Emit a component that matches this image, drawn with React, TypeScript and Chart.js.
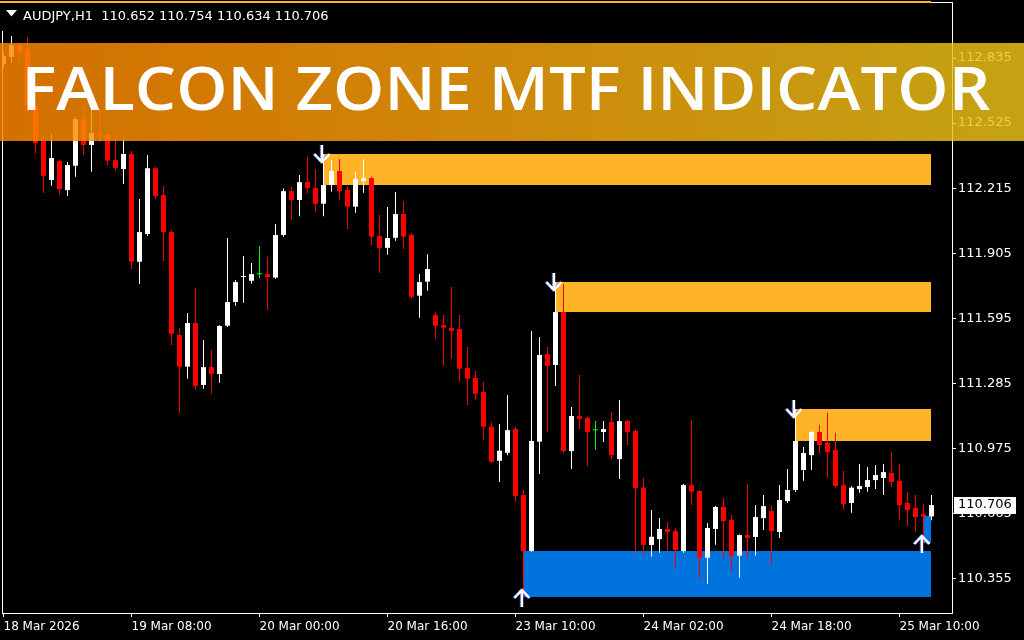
import React, { useEffect, useRef } from 'react';
import { Chart, registerables } from 'chart.js';

Chart.register(...registerables);

const symbolTitle = 'AUDJPY,H1  110.652 110.754 110.634 110.706';
const bannerText = 'FALCON ZONE MTF INDICATOR';

const barOpen = [
  112.806, 112.840, 112.897, 112.878, 112.611, 112.441, 112.254, 112.344, 112.206, 112.322,
  112.544, 112.421, 112.473, 112.468, 112.349, 112.306, 112.378, 111.865, 111.997, 112.310,
  112.182, 112.006, 111.516, 111.365, 111.573, 111.278, 111.363, 111.330, 111.560, 111.673,
  111.792, 111.774, 111.805, 111.806, 111.789, 111.992, 112.201, 112.159, 112.244, 112.216,
  112.141, 112.230, 112.297, 112.206, 112.127, 112.249, 112.263, 111.987, 111.931, 111.979,
  112.092, 111.992, 111.703, 111.770, 111.611, 111.563, 111.549, 111.544, 111.359, 111.311,
  111.244, 111.079, 110.917, 110.955, 111.068, 110.754, 110.487, 111.008, 111.425, 111.373,
  111.625, 110.963, 111.130, 111.121, 111.062, 111.054, 111.101, 110.925, 111.106, 111.059,
  110.789, 110.516, 110.544, 110.592, 110.582, 110.487, 110.801, 110.773, 110.455, 110.592,
  110.697, 110.635, 110.465, 110.563, 110.554, 110.644, 110.678, 110.578, 110.725, 110.778,
  110.873, 110.944, 111.054, 111.003, 110.968, 110.801, 110.716, 110.782, 110.792, 110.825,
  110.835, 110.859, 110.821, 110.716, 110.692, 110.663, 110.652,
];
const barHigh = [
  112.863, 112.940, 112.906, 112.935, 112.621, 112.463, 112.473, 112.349, 112.340, 112.554,
  112.601, 112.592, 112.587, 112.473, 112.454, 112.449, 112.392, 112.163, 112.373, 112.317,
  112.225, 112.016, 111.549, 111.621, 111.740, 111.492, 111.444, 111.562, 111.978, 111.778,
  111.892, 111.859, 111.940, 111.889, 112.044, 112.214, 112.222, 112.278, 112.365, 112.306,
  112.378, 112.349, 112.354, 112.222, 112.292, 112.354, 112.270, 112.087, 112.125, 112.197,
  112.154, 112.001, 111.806, 111.901, 111.625, 111.611, 111.744, 111.611, 111.459, 111.344,
  111.292, 111.101, 111.092, 111.230, 111.078, 110.778, 111.535, 111.506, 111.459, 111.768,
  111.759, 111.173, 111.325, 111.127, 111.106, 111.106, 111.149, 111.206, 111.111, 111.068,
  110.835, 110.682, 110.644, 110.625, 110.597, 110.806, 111.111, 110.775, 110.621, 110.701,
  110.740, 110.659, 110.566, 110.806, 110.706, 110.754, 110.706, 110.801, 110.878, 111.163,
  110.982, 111.060, 111.087, 111.146, 111.049, 110.868, 110.797, 110.901, 110.887, 110.897,
  110.901, 110.960, 110.901, 110.768, 110.754, 110.711, 110.754,
];
const barLow = [
  112.787, 112.811, 112.811, 112.578, 112.382, 112.193, 112.227, 112.184, 112.178, 112.270,
  112.373, 112.293, 112.436, 112.325, 112.298, 112.235, 111.830, 111.759, 111.987, 112.163,
  111.868, 111.468, 111.146, 111.308, 111.255, 111.260, 111.236, 111.289, 111.554, 111.655,
  111.670, 111.760, 111.787, 111.635, 111.784, 111.984, 112.063, 112.082, 112.191, 112.103,
  112.082, 112.198, 112.159, 112.021, 112.098, 112.193, 111.944, 111.812, 111.898, 111.965,
  111.927, 111.689, 111.598, 111.727, 111.498, 111.370, 111.403, 111.293, 111.182, 111.206,
  111.016, 110.908, 110.816, 110.943, 110.722, 110.268, 110.484, 110.854, 111.054, 111.273,
  110.955, 110.878, 111.068, 110.892, 110.968, 111.006, 110.925, 110.830, 110.992, 110.479,
  110.468, 110.460, 110.479, 110.489, 110.403, 110.479, 110.708, 110.354, 110.331, 110.517,
  110.450, 110.393, 110.360, 110.455, 110.465, 110.587, 110.417, 110.549, 110.716, 110.768,
  110.822, 110.873, 110.952, 110.836, 110.790, 110.686, 110.670, 110.765, 110.770, 110.782,
  110.754, 110.792, 110.635, 110.606, 110.579, 110.525, 110.634,
];
const barClose = [
  112.844, 112.897, 112.863, 112.611, 112.430, 112.274, 112.359, 112.211, 112.325, 112.544,
  112.421, 112.478, 112.468, 112.346, 112.312, 112.378, 111.865, 112.006, 112.310, 112.178,
  112.006, 111.522, 111.365, 111.573, 111.274, 111.363, 111.331, 111.559, 111.673, 111.768,
  111.797, 111.806, 111.805, 111.792, 111.992, 112.201, 112.159, 112.244, 112.216, 112.141,
  112.230, 112.297, 112.201, 112.127, 112.259, 112.263, 111.984, 111.931, 111.978, 112.092,
  111.984, 111.698, 111.768, 111.830, 111.560, 111.551, 111.535, 111.355, 111.308, 111.236,
  111.079, 110.912, 110.965, 111.063, 110.749, 110.487, 111.011, 111.421, 111.368, 111.625,
  110.963, 111.130, 111.116, 111.054, 111.062, 111.068, 110.944, 111.106, 111.054, 110.787,
  110.516, 110.555, 110.592, 110.578, 110.492, 110.801, 110.770, 110.455, 110.597, 110.697,
  110.630, 110.465, 110.563, 110.550, 110.649, 110.701, 110.582, 110.730, 110.778, 111.011,
  110.954, 111.054, 110.992, 110.959, 110.797, 110.711, 110.789, 110.797, 110.825, 110.849,
  110.863, 110.816, 110.706, 110.682, 110.649, 110.652, 110.706,
];

const xTickBars = [0, 16, 32, 48, 64, 80, 96, 112];
const xTickLabels = ['18 Mar 2026', '19 Mar 08:00', '20 Mar 00:00', '20 Mar 16:00', '23 Mar 10:00', '24 Mar 02:00', '24 Mar 18:00', '25 Mar 10:00'];
const yTickValues = [110.355, 110.665, 110.975, 111.285, 111.595, 111.905, 112.215, 112.525, 112.835];

const zoneStart = [-1, 40, 69, 99, 65, 115];
const zoneTop = [113.107, 112.378, 111.768, 111.163, 110.487, 110.652];
const zoneBottom = [113.097, 112.230, 111.625, 111.011, 110.268, 110.525];
const zoneKind = ['supply', 'supply', 'supply', 'supply', 'demand', 'demand'];
const zoneEndBar = 116;

const arrowBars = [40, 69, 99, 65, 115];
const arrowPrices = [112.378, 111.768, 111.163, 110.268, 110.525];
const arrowDirs = ['down', 'down', 'down', 'up', 'up'];

const BULL = '#FFFFFF';
const BEAR = '#FF0000';
const DOJI = '#00FF00';
const SUPPLY = '#FFB326';
const DEMAND = '#0073DF';
const AXIS_FONT = 'DejaVu Sans';

export default function App() {
  const ref = useRef<HTMLCanvasElement>(null);

  useEffect(() => {
    document.body.style.margin = '0';
    document.body.style.background = '#000';
    document.body.style.overflow = 'hidden';
    const canvas = ref.current as HTMLCanvasElement;
    const idx = barOpen.map((_, i) => i);
    const colors = idx.map((i) =>
      barClose[i] > barOpen[i] ? BULL : barClose[i] < barOpen[i] ? BEAR : DOJI
    );
    const wickData = idx.map((i) => ({ x: i, y: [barLow[i], barHigh[i]] }));
    const bodyData = idx.map((i) => ({ x: i, y: [barOpen[i], barClose[i]] }));

    const drawArrow = (ctx: CanvasRenderingContext2D, x: number, yEdge: number, dir: string, color: string, dx: number) => {
      ctx.save();
      ctx.strokeStyle = color;
      ctx.lineWidth = 2.4;
      ctx.lineJoin = 'miter';
      ctx.beginPath();
      if (dir === 'down') {
        const top = yEdge - 9;
        const tip = yEdge + 8;
        ctx.moveTo(x + dx, top);
        ctx.lineTo(x + dx, tip);
        ctx.moveTo(x + dx - 7.5, tip - 8);
        ctx.lineTo(x + dx, tip);
        ctx.lineTo(x + dx + 7.5, tip - 8);
      } else {
        const tip = yEdge - 7;
        const end = yEdge + 10;
        ctx.moveTo(x + dx, tip);
        ctx.lineTo(x + dx, end);
        ctx.moveTo(x + dx - 7.5, tip + 8);
        ctx.lineTo(x + dx, tip);
        ctx.lineTo(x + dx + 7.5, tip + 8);
      }
      ctx.stroke();
      ctx.restore();
    };

    const plugin = {
      id: 'mt4Look',
      beforeDraw(chart: any) {
        const { ctx, width, height } = chart;
        ctx.save();
        ctx.fillStyle = '#000';
        ctx.fillRect(0, 0, width, height);
        ctx.restore();
      },
      beforeDatasetsDraw(chart: any) {
        const { ctx, chartArea: ca } = chart;
        const xs = chart.scales.x;
        const ys = chart.scales.y;
        ctx.save();
        ctx.strokeStyle = '#FFFFFF';
        ctx.lineWidth = 1;
        ctx.strokeRect(ca.left - 0.5, ca.top - 0.5, ca.right - ca.left + 1, ca.bottom - ca.top + 1);
        for (let k = 0; k < zoneStart.length; k++) {
          const x1 = Math.max(0, Math.round(xs.getPixelForValue(zoneStart[k])));
          const x2 = Math.floor(xs.getPixelForValue(zoneEndBar));
          const y1 = Math.round(ys.getPixelForValue(zoneTop[k]));
          const y2 = Math.round(ys.getPixelForValue(zoneBottom[k]));
          ctx.fillStyle = zoneKind[k] === 'supply' ? SUPPLY : DEMAND;
          ctx.fillRect(x1, y1, x2 - x1, y2 - y1);
        }
        ctx.restore();
      },
      afterDatasetsDraw(chart: any) {
        const { ctx } = chart;
        const xs = chart.scales.x;
        const ys = chart.scales.y;
        for (let k = 0; k < arrowBars.length; k++) {
          const x = xs.getPixelForValue(arrowBars[k]) - 1.5;
          const y = Math.round(ys.getPixelForValue(arrowPrices[k]));
          drawArrow(ctx, x, y, arrowDirs[k], 'rgba(80,120,255,0.85)', -1);
          drawArrow(ctx, x, y, arrowDirs[k], '#FFFFFF', 0);
        }
      },
      afterDraw(chart: any) {
        const { ctx, width } = chart;
        const ys = chart.scales.y;
        ctx.save();
        // title box
        ctx.fillStyle = '#000';
        ctx.fillRect(0, 3, 335, 28);
        ctx.fillStyle = '#FFFFFF';
        ctx.beginPath();
        ctx.moveTo(6, 10);
        ctx.lineTo(17, 10);
        ctx.lineTo(11.5, 16.5);
        ctx.closePath();
        ctx.fill();
        ctx.font = '13px "' + AXIS_FONT + '"';
        ctx.textBaseline = 'alphabetic';
        ctx.textAlign = 'left';
        ctx.fillText(symbolTitle, 23, 19.5);

        // current price label
        const last = barClose[barClose.length - 1];
        const py = ys.getPixelForValue(last);
        ctx.fillStyle = '#FFFFFF';
        ctx.fillRect(954, Math.round(py - 8.5), 62, 17);
        ctx.fillStyle = '#000';
        ctx.textBaseline = 'middle';
        ctx.fillText(last.toFixed(3), 958, py);

        // banner
        const g = ctx.createLinearGradient(0, 0, width, 0);
        g.addColorStop(0, 'rgba(255,134,0,0.83)');
        g.addColorStop(0.5, 'rgba(248,165,12,0.83)');
        g.addColorStop(1, 'rgba(236,196,24,0.83)');
        ctx.fillStyle = g;
        ctx.fillRect(0, 43, width, 98);
        ctx.font = '600 60px "Open Sans"';
        ctx.textBaseline = 'alphabetic';
        const m = ctx.measureText(bannerText);
        const ink = m.actualBoundingBoxRight + m.actualBoundingBoxLeft;
        const sx = 963 / ink;
        ctx.translate(27 + m.actualBoundingBoxLeft * sx, 110);
        ctx.scale(sx, 1);
        ctx.fillStyle = '#FFFFFF';
        ctx.fillText(bannerText, 0, 0);
        ctx.restore();
      },
    };

    const chart = new Chart(canvas, {
      type: 'bar',
      data: {
        datasets: [
          {
            data: wickData as any,
            backgroundColor: colors,
            barThickness: 1,
            grouped: false,
            minBarLength: 1,
            inflateAmount: 0,
            borderWidth: 0,
            order: 2,
          } as any,
          {
            data: bodyData as any,
            backgroundColor: colors,
            barThickness: 5,
            grouped: false,
            minBarLength: 1,
            inflateAmount: 0,
            borderWidth: 0,
            order: 1,
          } as any,
        ],
      },
      options: {
        animation: false,
        responsive: false,
        devicePixelRatio: 1,
        events: [],
        layout: { padding: { left: 3, top: 3, right: 0, bottom: 0 } },
        plugins: { legend: { display: false }, tooltip: { enabled: false }, title: { display: false } },
        scales: {
          x: {
            type: 'linear',
            min: -0.0625,
            max: 118.5625,
            offset: false,
            afterBuildTicks: (s: any) => {
              s.ticks = xTickBars.map((v) => ({ value: v }));
            },
            afterFit: (s: any) => {
              s.height = 27;
              s.paddingLeft = 0;
              s.paddingRight = 0;
              s.paddingTop = 0;
              s.paddingBottom = 0;
            },
            grid: { drawOnChartArea: false, drawTicks: true, tickLength: 4, tickColor: '#FFFFFF', color: '#FFFFFF', offset: false },
            border: { display: false },
            ticks: {
              color: '#FFFFFF',
              font: { family: AXIS_FONT, size: 12 },
              align: 'start',
              maxRotation: 0,
              minRotation: 0,
              autoSkip: false,
              padding: 3,
              callback: (_v: any, i: number) => xTickLabels[i],
            },
          },
          y: {
            type: 'linear',
            position: 'right',
            min: 110.192,
            max: 113.097,
            beginAtZero: false,
            afterBuildTicks: (s: any) => {
              s.ticks = yTickValues.map((v) => ({ value: v }));
            },
            afterFit: (s: any) => {
              s.width = 72;
              s.paddingLeft = 0;
              s.paddingRight = 0;
              s.paddingTop = 0;
              s.paddingBottom = 0;
            },
            grid: { drawOnChartArea: false, drawTicks: true, tickLength: 4, tickColor: '#FFFFFF', color: '#FFFFFF' },
            border: { display: false },
            ticks: {
              color: '#FFFFFF',
              font: { family: AXIS_FONT, size: 13 },
              padding: 2,
              autoSkip: false,
              callback: (v: any) => Number(v).toFixed(3),
            },
          },
        },
      } as any,
      plugins: [plugin as any],
    });
    return () => chart.destroy();
  }, []);

  return (
    <div style={{ position: 'absolute', left: 0, top: 0, width: 1024, height: 640, background: '#000' }}>
      <canvas ref={ref} width={1024} height={640} style={{ display: 'block', width: 1024, height: 640 }} />
    </div>
  );
}
